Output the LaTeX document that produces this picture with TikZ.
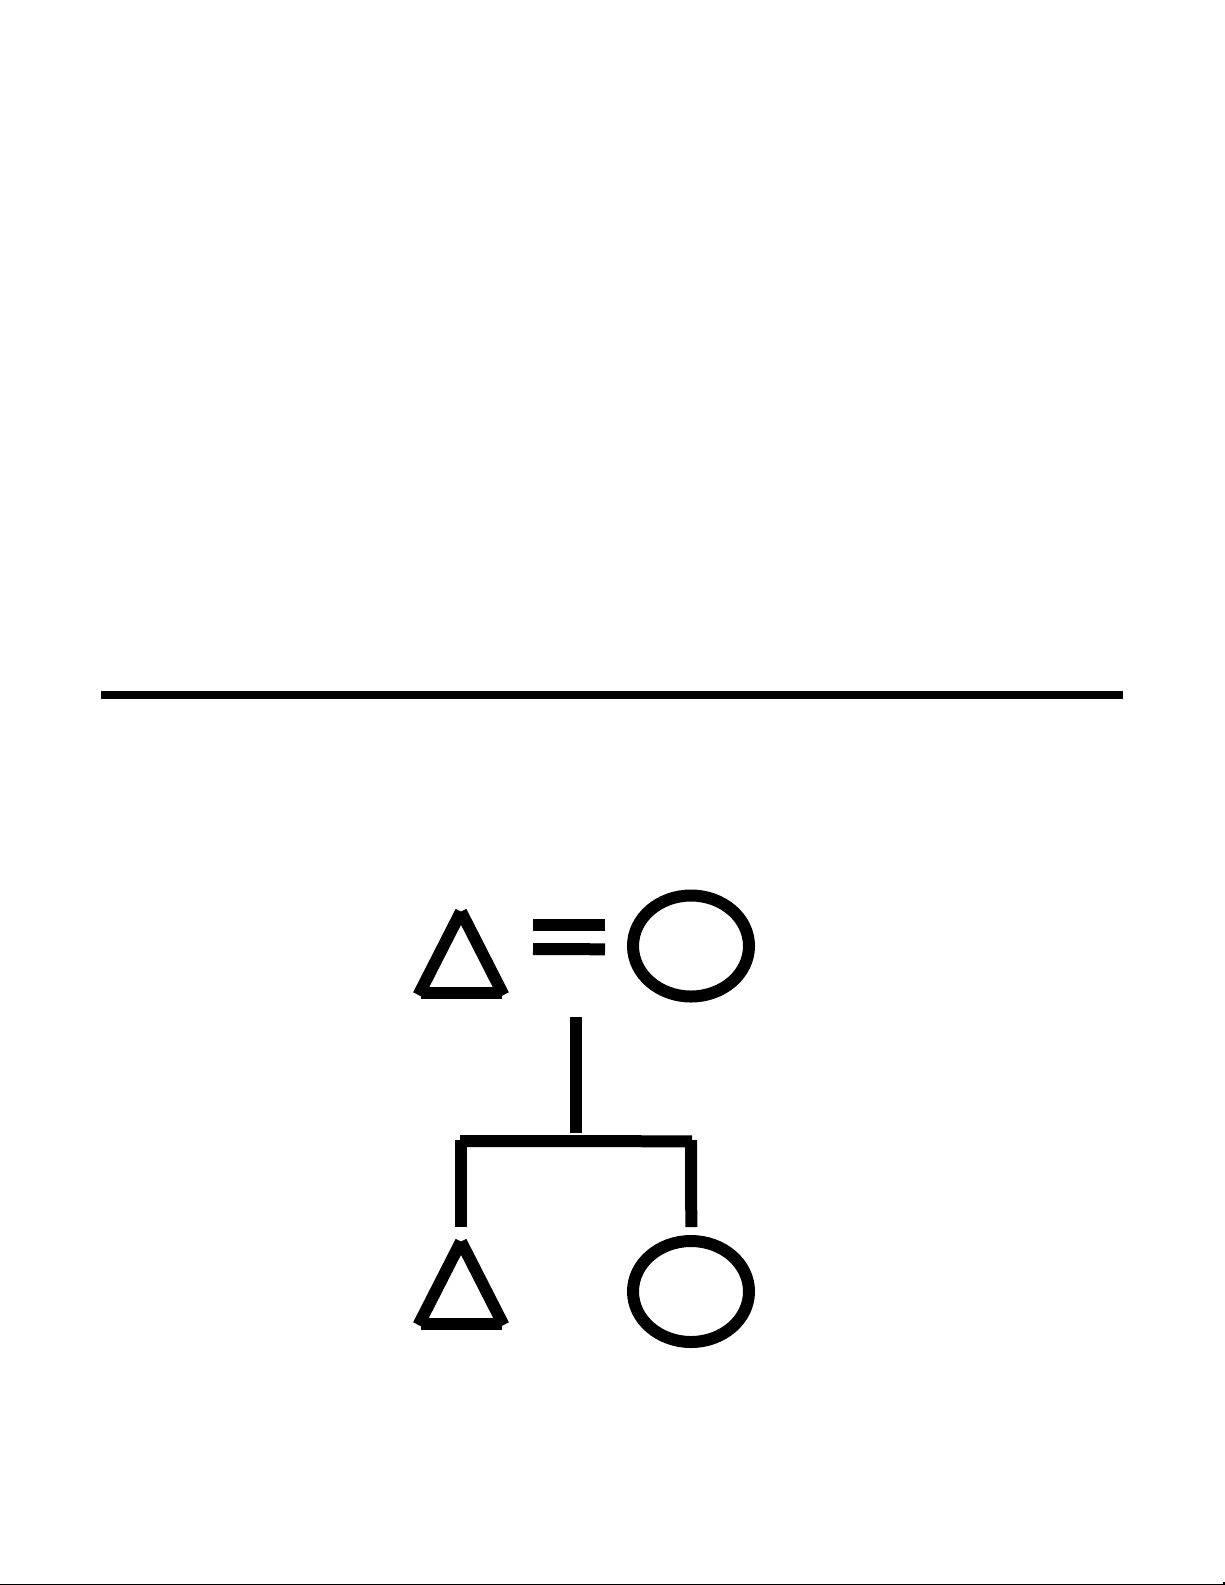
\documentclass[tikz,border=0pt]{standalone}
\begin{document}
\begin{tikzpicture}[x=0.5pt,y=-0.5pt,
  heavy/.style={line width=6pt,line cap=butt,black},
  rule/.style={line width=4pt,line cap=butt,black},
  edge/.style={line width=0.8pt,black}]
\useasboundingbox (0,0) rectangle (1225,1585);
\fill[white] (0,0) rectangle (1225,1585);
% top rule
\coordinate (ruleL) at (101,694.7);
\coordinate (ruleR) at (1123,694.7);
\draw[rule] (ruleL) -- (ruleR);
% bottom page edge
\coordinate (edgeL) at (0,1584.3);
\coordinate (edgeR) at (1224,1584.3);
\coordinate (edgeT) at (1224,1582);
\draw[edge] (edgeL) -- (edgeR) -- (edgeT);
% father (triangle)
\coordinate (fA) at (461,911.6);
\coordinate (fL) at (418.5,995);
\coordinate (fR) at (503.5,995);
\coordinate (fBL) at (420.5,992.5);
\coordinate (fBR) at (501.5,992.5);
\draw[heavy] (fL) -- (fA);
\draw[heavy] (fA) -- (fR);
\draw[heavy] (fBL) -- (fBR);
% marriage bars
\coordinate (m1L) at (533,925);
\coordinate (m1R) at (605,925);
\coordinate (m2L) at (533,949);
\coordinate (m2R) at (605,949.3);
\draw[heavy] (m1L) -- (m1R);
\draw[heavy] (m2L) -- (m2R);
% mother (circle)
\coordinate (mother) at (691,946);
\draw[heavy] (mother) ellipse [x radius=58, y radius=50.5];
% descent line
\coordinate (dT) at (576,1017);
\coordinate (dB) at (576,1133);
\draw[heavy] (dT) -- (dB);
% sibship line
\coordinate (sL) at (460,1141);
\coordinate (sR) at (692,1141.3);
\draw[heavy] (sL) -- (sR);
\coordinate (s1T) at (461,1140);
\coordinate (s1B) at (461,1227);
\coordinate (s2T) at (691,1140);
\coordinate (s2B) at (691.3,1227);
\draw[heavy] (s1T) -- (s1B);
\draw[heavy] (s2T) -- (s2B);
% son (triangle)
\coordinate (sA) at (461,1241.6);
\coordinate (sBl) at (418.5,1325);
\coordinate (sBr) at (503.5,1325);
\coordinate (sBL) at (420.5,1323.5);
\coordinate (sBR) at (501.5,1323.5);
\draw[heavy] (sBl) -- (sA);
\draw[heavy] (sA) -- (sBr);
\draw[heavy] (sBL) -- (sBR);
% daughter (circle)
\coordinate (daughter) at (691,1291.5);
\draw[heavy] (daughter) ellipse [x radius=58, y radius=50.5];
\end{tikzpicture}
\end{document}
